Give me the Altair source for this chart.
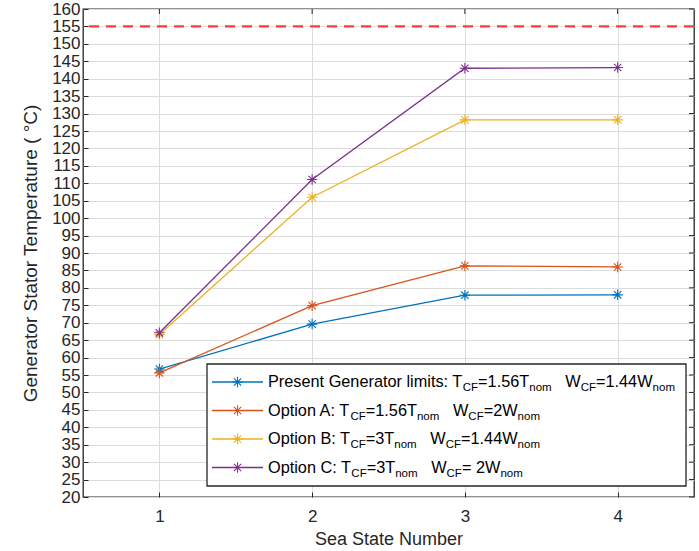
import altair as alt
import pandas as pd

# ---------------- data ----------------
sea_states = [1, 2, 3, 4]
series_names = ["Present", "Option A", "Option B", "Option C"]
present = [56.7, 69.6, 77.9, 78.0]
option_a = [55.6, 74.9, 86.3, 86.0]
option_b = [66.6, 106.0, 128.2, 128.2]
option_c = [67.1, 111.1, 143.0, 143.2]
limit_temp = 155
colors = ["#0072BD", "#D95319", "#EDB120", "#7E2F8E"]
y_ticks = list(range(20, 161, 5))

legend_rows = [
    [("Present Generator limits: T", 0), ("CF", 1), ("=1.56T", 0), ("nom", 1), ("W", 2), ("CF", 1), ("=1.44W", 0), ("nom", 1)],
    [("Option A: T", 0), ("CF", 1), ("=1.56T", 0), ("nom", 1), ("W", 2), ("CF", 1), ("=2W", 0), ("nom", 1)],
    [("Option B: T", 0), ("CF", 1), ("=3T", 0), ("nom", 1), ("W", 2), ("CF", 1), ("=1.44W", 0), ("nom", 1)],
    [("Option C: T", 0), ("CF", 1), ("=3T", 0), ("nom", 1), ("W", 2), ("CF", 1), ("= 2W", 0), ("nom", 1)],
]

rows = []
for name, vals in zip(series_names, [present, option_a, option_b, option_c]):
    for s, v in zip(sea_states, vals):
        rows.append({"series": name, "sea": s, "temp": v})
df = pd.DataFrame(rows)

# ---------------- layout ----------------
W, H = 611, 488
FONT = "Liberation Sans"
TXT = "#262626"
ASTERISK = "M0,-1L0,1M-1,0L1,0M-0.7,-0.7L0.7,0.7M-0.7,0.7L0.7,-0.7"

xs = alt.Scale(domain=[0.5, 4.5], nice=False, zero=False)
ys = alt.Scale(domain=[20, 160], nice=False, zero=False)
color = alt.Color("series:N", scale=alt.Scale(domain=series_names, range=colors), legend=None)

x_axis = alt.Axis(values=sea_states, format="d", offset=-5, tickSize=5, domain=False,
                  labelPadding=11, titlePadding=6, grid=True, labelOverlap=False,
                  labelFont=FONT, labelFontSize=17, labelColor=TXT,
                  titleFont=FONT, titleFontSize=18, titleColor=TXT, titleFontWeight="normal",
                  tickColor=TXT, gridColor="#dcdcdc")
y_axis = alt.Axis(values=y_ticks, offset=-5, tickSize=5, domain=False,
                  labelPadding=3, titlePadding=11, grid=True, labelOverlap=False, labelFlush=False,
                  labelFont=FONT, labelFontSize=17, labelColor=TXT,
                  titleFont=FONT, titleFontSize=19, titleColor=TXT, titleFontWeight="normal",
                  tickColor=TXT, gridColor="#dcdcdc")
x_enc = alt.X("sea:Q", scale=xs, title="Sea State Number", axis=x_axis)
y_enc = alt.Y("temp:Q", scale=ys, title="Generator Stator Temperature ( °C)", axis=y_axis)

lines = alt.Chart(df).mark_line(strokeWidth=1.3).encode(x=x_enc, y=y_enc, color=color, detail="series:N")
points = alt.Chart(df).mark_point(shape=ASTERISK, size=110, strokeWidth=1.1, filled=False, opacity=1).encode(
    x=x_enc, y=y_enc, color=color)

# inward ticks on the top and right edges of the box (same axis spec so axes merge)
top_ticks = alt.Chart(pd.DataFrame({"sea": sea_states})).mark_rule(color=TXT, strokeWidth=1).encode(
    x=x_enc, y=alt.value(0), y2=alt.value(5))
right_ticks = alt.Chart(pd.DataFrame({"temp": y_ticks})).mark_rule(color=TXT, strokeWidth=1).encode(
    y=y_enc, x=alt.value(W - 5), x2=alt.value(W))

limit = alt.Chart(pd.DataFrame({"temp": [limit_temp]})).mark_rule(
    color="#ff3b3b", strokeWidth=2.2, strokeDash=[10, 7]).encode(y=y_enc)

# ---------------- legend (built by hand for subscripts) ----------------
widths = {
    "A": 667, "B": 667, "C": 722, "F": 611, "G": 778, "O": 778, "P": 667, "T": 611, "W": 944,
    "a": 556, "e": 556, "i": 222, "l": 222, "m": 833, "n": 556, "o": 556, "p": 556, "r": 333,
    "s": 500, "t": 278, "u": 556, " ": 278, ":": 278, ".": 278, "=": 584,
}
for d in "0123456789":
    widths[d] = 556


def tw(s, size):
    return sum(widths.get(c, 556) for c in s) * size / 1000.0


MAIN, SUB = 16.3, 11.5
box_x1, box_x2, box_y1, box_y2 = 124, 603, 355, 477
row_y0, row_dy = 373, 28.5
line_x1, line_x2, text_x0 = 129, 180, 185

layers = [lines, points, top_ticks, right_ticks, limit]
layers.append(alt.Chart(pd.DataFrame({"a": [0]})).mark_rect(
    fill="white", stroke=TXT, strokeWidth=1.3).encode(
    x=alt.value(box_x1), x2=alt.value(box_x2), y=alt.value(box_y1), y2=alt.value(box_y2)))

for i, segs in enumerate(legend_rows):
    yy = row_y0 + i * row_dy
    layers.append(alt.Chart(pd.DataFrame({"a": [0]})).mark_rule(color=colors[i], strokeWidth=1.3).encode(
        x=alt.value(line_x1), x2=alt.value(line_x2), y=alt.value(yy)))
    layers.append(alt.Chart(pd.DataFrame({"a": [0]})).mark_point(
        shape=ASTERISK, size=110, strokeWidth=1.1, color=colors[i], opacity=1).encode(
        x=alt.value((line_x1 + line_x2) / 2), y=alt.value(yy)))
    cx = text_x0
    for text, kind in segs:
        if kind == 2:
            cx += tw("   ", MAIN)
            kind = 0
        size = SUB if kind == 1 else MAIN
        dy = 6 if kind == 1 else 0
        layers.append(alt.Chart(pd.DataFrame({"a": [0]})).mark_text(
            text=text, font=FONT, fontSize=size, color="black", align="left", baseline="middle").encode(
            x=alt.value(cx), y=alt.value(yy + dy)))
        cx += tw(text, size)

chart = alt.layer(*layers).properties(
    width=W, height=H, autosize="none",
    padding={"left": 83, "top": 9, "right": 5, "bottom": 54},
).configure_view(stroke=TXT, strokeWidth=1.3)

chart.save("out.html", embed_options={"renderer": "svg", "actions": False})
